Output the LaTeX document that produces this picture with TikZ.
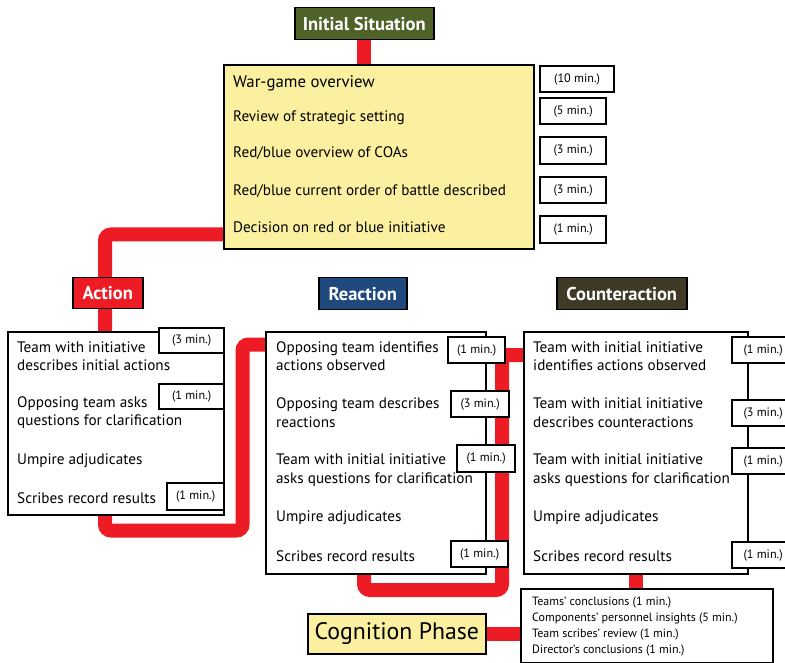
\documentclass[tikz,border=0pt]{standalone}
\usepackage{fontspec}
\setmainfont{PT Sans}
\usetikzlibrary{backgrounds}
\definecolor{wgred}{HTML}{ED1C24}
\definecolor{wgolive}{HTML}{4F6228}
\definecolor{wgblue}{HTML}{1F497D}
\definecolor{wgbrown}{HTML}{3F3A26}
\definecolor{wgyellow}{HTML}{FAF0A0}
\begin{document}
\begin{tikzpicture}[x=1pt,y=-1pt,
 hdr/.style={draw=black,line width=1.5pt,text=white,font=\bfseries\fontsize{18.5}{20}\selectfont,inner sep=0pt,anchor=north west},
 lbox/.style={draw=black,line width=2pt,fill=white,inner sep=0pt,anchor=north west},
 tbox/.style={draw=black,line width=2.2pt,fill=white,inner sep=0pt,anchor=north west,font=\fontsize{12.2}{14}\selectfont},
 itm/.style={anchor=west,align=left,inner sep=0pt,font=\fontsize{15.2}{18.5}\selectfont},
 redline/.style={draw=wgred,line width=14pt,rounded corners=6pt}]
\clip (0,0) rectangle (785,663);
% Initial situation
\node[hdr,fill=wgolive,minimum width=139pt,minimum height=32pt] (init) at (294,7) {Initial Situation};
\node[lbox,fill=wgyellow,minimum width=310pt,minimum height=184pt] (yellow) at (223,64) {};
\node[itm,font=\fontsize{16.8}{18}\selectfont] (y1) at (233,83) {War-game overview};
\node[itm] (y2) at (233,118) {Review of strategic setting};
\node[itm] (y3) at (233,153) {Red/blue overview of COAs};
\node[itm] (y4) at (233,191) {Red/blue current order of battle described};
\node[itm] (y5) at (233,227) {Decision on red or blue initiative};
\node[tbox,minimum width=74pt,minimum height=26pt] (t1) at (539,65) {(10 min.)};
\node[tbox,minimum width=66pt,minimum height=26pt] (t2) at (539,97) {(5 min.)};
\node[tbox,minimum width=66pt,minimum height=27pt] (t3) at (539,136) {(3 min.)};
\node[tbox,minimum width=66pt,minimum height=26pt] (t4) at (539,176) {(3 min.)};
\node[tbox,minimum width=66pt,minimum height=27pt] (t5) at (539,215) {(1 min.)};
% Action
\node[hdr,fill=wgred,minimum width=70pt,minimum height=31pt] (action) at (72,277) {Action};
\node[lbox,minimum width=216pt,minimum height=183pt] (actlist) at (7,331) {};
\node[itm] (a1) at (17,356) {Team with initiative\\describes initial actions};
\node[itm] (a2) at (17,412.5) {Opposing team asks\\questions for clarification};
\node[itm] (a3) at (17,461) {Umpire adjudicates};
\node[itm] (a4) at (17,498) {Scribes record results};
\node[tbox,minimum width=65pt,minimum height=25pt] (at1) at (158,327) {(3 min.)};
\node[tbox,minimum width=65pt,minimum height=25pt] (at2) at (158,383) {(1 min.)};
\node[tbox,minimum width=57pt,minimum height=27pt] (at3) at (166,482) {(1 min.)};
% Reaction
\node[hdr,fill=wgblue,minimum width=88pt,minimum height=32pt] (reaction) at (318,277) {Reaction};
\node[lbox,minimum width=220pt,minimum height=242pt] (reactlist) at (265,331) {};
\node[itm] (r1) at (276,356) {Opposing team identifies\\actions observed};
\node[itm] (r2) at (276,412.5) {Opposing team describes\\reactions};
\node[itm] (r3) at (276,470) {Team with initial initiative\\asks questions for clarification};
\node[itm] (r4) at (276,518) {Umpire adjudicates};
\node[itm] (r5) at (276,556) {Scribes record results};
\node[tbox,minimum width=57pt,minimum height=26pt] (rt1) at (447,336) {(1 min.)};
\node[tbox,minimum width=58pt,minimum height=26pt] (rt2) at (450,390) {(3 min.)};
\node[tbox,minimum width=58pt,minimum height=27pt] (rt3) at (456,444) {(1 min.)};
\node[tbox,minimum width=57pt,minimum height=26pt] (rt4) at (450,540) {(1 min.)};
% Counteraction
\node[hdr,fill=wgbrown,minimum width=130pt,minimum height=32pt] (counter) at (556,277) {Counteraction};
\node[lbox,minimum width=224pt,minimum height=242pt] (counterlist) at (523,331) {};
\node[itm] (k1) at (533,356) {Team with initial initiative\\identifies actions observed};
\node[itm] (k2) at (533,412.5) {Team with initial initiative\\describes counteractions};
\node[itm] (k3) at (533,470) {Team with initial initiative\\asks questions for clarification};
\node[itm] (k4) at (533,518) {Umpire adjudicates};
\node[itm] (k5) at (533,556) {Scribes record results};
\node[tbox,minimum width=62pt,minimum height=26pt] (kt1) at (731,336) {(1 min.)};
\node[tbox,minimum width=62pt,minimum height=26pt] (kt2) at (731,399) {(3 min.)};
\node[tbox,minimum width=62pt,minimum height=26pt] (kt3) at (731,447) {(1 min.)};
\node[tbox,minimum width=62pt,minimum height=26pt] (kt4) at (731,541) {(1 min.)};
% Cognition
\node[lbox,fill=wgyellow,line width=1.6pt,minimum width=178pt,minimum height=40pt,font=\fontsize{23.8}{26}\selectfont] (cogn) at (307,613) {Cognition Phase};
\node[lbox,minimum width=252pt,minimum height=74pt] (cognlist) at (520,588) {};
\node[itm,font=\fontsize{12}{16}\selectfont] (cogtxt) at (532,627) {Teams’ conclusions (1 min.)\\Components’ personnel insights (5 min.)\\Team scribes’ review (1 min.)\\Director’s conclusions (1 min.)};
% connectors
\begin{scope}[on background layer]
\coordinate (c1) at (105,530.5);
\coordinate (c2) at (242.5,344.5);
\coordinate (c3) at (364,590);
\coordinate (c4) at (502,355);
\draw[redline] (init.south) -- (init.south |- yellow.north);
\draw[redline] ([yshift=15.5pt]yellow.south west) -| (c1) -| (c2) -- (c2 -| reactlist.west);
\draw[redline] (c3 |- reactlist.south) -- (c3) -| (c4) -- (c4 -| counterlist.west);
\draw[redline] (counterlist.south) -- (counterlist.south |- cognlist.north);
\draw[redline] (cogn.east) -- (cogn.east -| cognlist.west);
\end{scope}
\end{tikzpicture}
\end{document}
